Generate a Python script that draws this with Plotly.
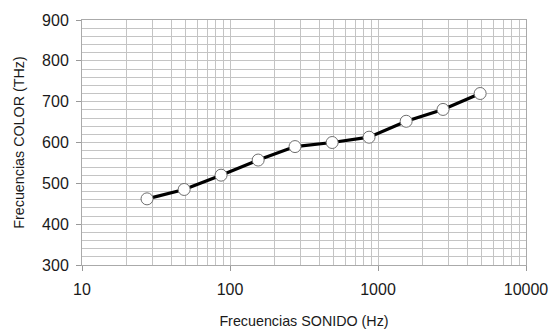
import plotly.graph_objects as go

sound_hz = [27.5, 49, 87, 155, 275, 490, 870, 1550, 2750, 4900]
color_thz = [462, 485, 520, 557, 590, 600, 613, 652, 681, 720]

x_ticks = [10, 100, 1000, 10000]
x_labels = ["10", "100", "1000", "10000"]

fig = go.Figure()
fig.add_trace(go.Scatter(
    x=sound_hz, y=color_thz, mode="lines+markers",
    line=dict(color="black", width=3.2),
    marker=dict(size=12, color="white", line=dict(color="#6f6f6f", width=1)),
    showlegend=False,
))

font = dict(family="Liberation Sans, Arial, sans-serif", size=16, color="#1a1a1a")
grid = "#c4c4c4"

fig.update_layout(
    width=554, height=329,
    margin=dict(l=82, r=28, t=20, b=64, autoexpand=False),
    paper_bgcolor="white", plot_bgcolor="white",
    font=font,
    xaxis=dict(
        type="log", range=[1, 4],
        tickvals=x_ticks, ticktext=x_labels,
        showgrid=True, gridcolor=grid, gridwidth=1,
        minor=dict(showgrid=True, gridcolor=grid, gridwidth=1,
                   tickvals=[m * 10 ** e for e in range(1, 4) for m in range(2, 10)]),
        ticks="outside", ticklen=5, tickcolor="#999999",
        ticklabelstandoff=5,
        showline=True, linecolor="#aaaaaa", mirror=True,
        automargin=False,
        title=dict(text="Frecuencias SONIDO (Hz)", font=dict(size=14.3), standoff=22),
        zeroline=False,
    ),
    yaxis=dict(
        range=[300, 900], dtick=100,
        showgrid=True, gridcolor=grid, gridwidth=1,
        minor=dict(showgrid=True, gridcolor=grid, gridwidth=1, dtick=20),
        ticks="outside", ticklen=5, tickcolor="#999999",
        ticklabelstandoff=4,
        showline=True, linecolor="#aaaaaa", mirror=True,
        automargin=False,
        title=dict(text="Frecuencias COLOR (THz)", font=dict(size=14.3), standoff=14),
        zeroline=False,
    ),
)

fig.write_html("out.html")
